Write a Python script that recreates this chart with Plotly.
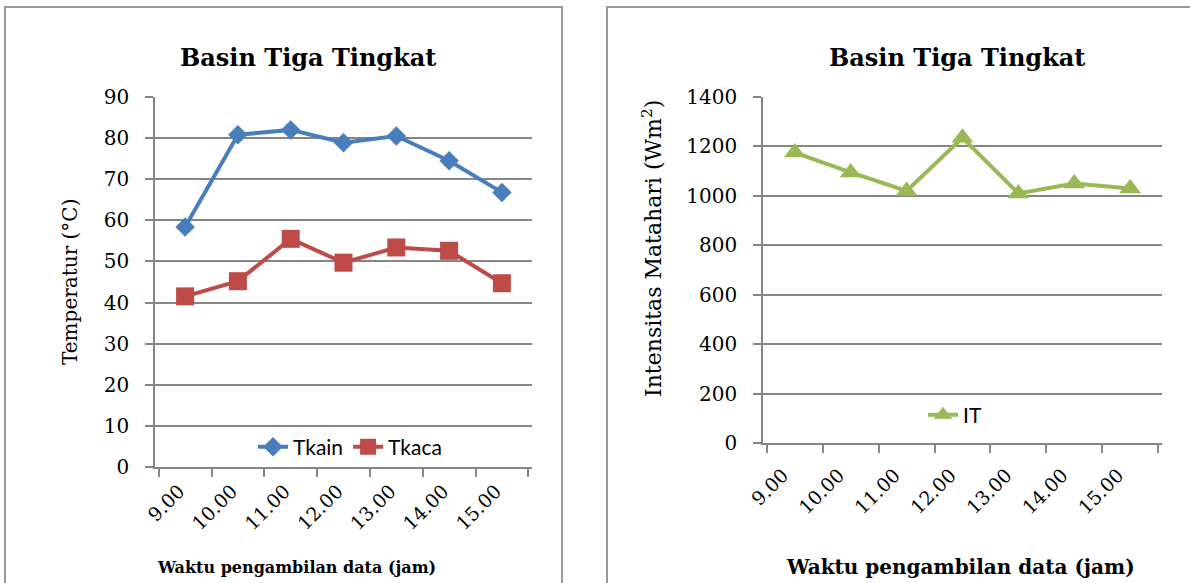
import plotly.graph_objects as go

W, H = 1190, 583

hours = ["9.00", "10.00", "11.00", "12.00", "13.00", "14.00", "15.00"]
tkain = [58.4, 80.8, 82.0, 78.9, 80.5, 74.5, 66.8]
tkaca = [41.5, 45.2, 55.5, 49.7, 53.4, 52.6, 44.7]
it_vals = [1175, 1095, 1020, 1235, 1010, 1050, 1030]

title_text = "Basin Tiga Tingkat"
xtitle = "Waktu pengambilan data (jam)"


def px(x):
    return x / W


def py(y):
    return 1 - y / H


SERIF = "DejaVu Serif"
SANS = "Lato"
GRID = "#868686"
BLUE = "#4A7EBB"
RED = "#BE4B48"
GREEN = "#98B954"

fig = go.Figure()
fig.add_trace(go.Scatter(x=hours, y=tkain, name="Tkain", mode="lines+markers",
                         line=dict(color=BLUE, width=4),
                         marker=dict(symbol="diamond", size=15, color=BLUE),
                         xaxis="x", yaxis="y", legend="legend"))
fig.add_trace(go.Scatter(x=hours, y=tkaca, name="Tkaca", mode="lines+markers",
                         line=dict(color=RED, width=4),
                         marker=dict(symbol="square", size=18, color=RED),
                         xaxis="x", yaxis="y", legend="legend"))
fig.add_trace(go.Scatter(x=hours, y=it_vals, name="IT", mode="lines+markers",
                         line=dict(color=GREEN, width=4),
                         marker=dict(symbol="triangle-up", size=19, color=GREEN),
                         xaxis="x2", yaxis="y2", legend="legend2"))

xcommon = dict(type="category", tickson="boundaries", ticks="outside", ticklen=8,
               tickcolor=GRID, tickwidth=1.5, showline=True, linecolor=GRID,
               linewidth=1.5, showgrid=False, tickangle=-45, zeroline=False,
               automargin=False,
               tickfont=dict(family=SERIF, size=19, color="black"))
ycommon = dict(showgrid=True, gridcolor=GRID, gridwidth=1.5, ticks="outside",
               ticklen=8, tickcolor=GRID, tickwidth=1.5, showline=True,
               linecolor=GRID, linewidth=1.5, zeroline=False,
               ticklabelstandoff=12, automargin=False,
               tickfont=dict(family=SERIF, size=20, color="black"))

fig.update_layout(
    width=W, height=H,
    margin=dict(l=0, r=0, t=0, b=0, autoexpand=False),
    paper_bgcolor="white", plot_bgcolor="white",
    xaxis=dict(domain=[px(155), px(532)], anchor="y", ticklabelstandoff=4,
               ticklabelshift=-6, **xcommon),
    yaxis=dict(domain=[py(467), py(97)], anchor="x", range=[0, 90], dtick=10, **ycommon),
    xaxis2=dict(domain=[px(763), px(1162)], anchor="y2", ticklabelstandoff=12,
                ticklabelshift=-12, **xcommon),
    yaxis2=dict(domain=[py(443), py(97)], anchor="x2", range=[0, 1400], dtick=200, **ycommon),
    legend=dict(x=px(350), y=py(447), xanchor="center", yanchor="middle",
                orientation="h", bgcolor="rgba(0,0,0,0)",
                font=dict(family=SANS, size=21, color="black")),
    legend2=dict(x=px(955), y=py(415), xanchor="center", yanchor="middle",
                 orientation="h", bgcolor="rgba(0,0,0,0)",
                 font=dict(family=SANS, size=21, color="black")),
    shapes=[
        dict(type="rect", xref="paper", yref="paper", x0=px(5), x1=px(562),
             y0=py(600), y1=py(7), line=dict(color="#999999", width=2)),
        dict(type="rect", xref="paper", yref="paper", x0=px(607), x1=px(1200),
             y0=py(600), y1=py(7), line=dict(color="#999999", width=2)),
    ],
    annotations=[
        dict(text="<b>" + title_text + "</b>", x=px(308), y=py(57), xref="paper", yref="paper",
             xanchor="center", yanchor="middle",
             showarrow=False, font=dict(family=SERIF, size=24, color="black")),
        dict(text="<b>" + title_text + "</b>", x=px(957), y=py(57), xref="paper", yref="paper",
             xanchor="center", yanchor="middle",
             showarrow=False, font=dict(family=SERIF, size=24, color="black")),
        dict(text="Temperatur (°C)", x=px(70), y=py(282), xref="paper", yref="paper",
             xanchor="center", yanchor="middle",
             showarrow=False, textangle=-90, font=dict(family=SERIF, size=20, color="black")),
        dict(text="Intensitas Matahari (Wm<sup>2</sup>)", x=px(652), y=py(249), xref="paper",
             yref="paper", xanchor="center", yanchor="middle", showarrow=False, textangle=-90,
             font=dict(family=SERIF, size=22, color="black")),
        dict(text="<b>" + xtitle + "</b>", x=px(296), y=py(567), xref="paper", yref="paper",
             xanchor="center", yanchor="middle",
             showarrow=False, font=dict(family=SERIF, size=16, color="black")),
        dict(text="<b>" + xtitle + "</b>", x=px(960), y=py(567), xref="paper", yref="paper",
             xanchor="center", yanchor="middle",
             showarrow=False, font=dict(family=SERIF, size=20, color="black")),
    ],
)

fig.write_html("out.html")
